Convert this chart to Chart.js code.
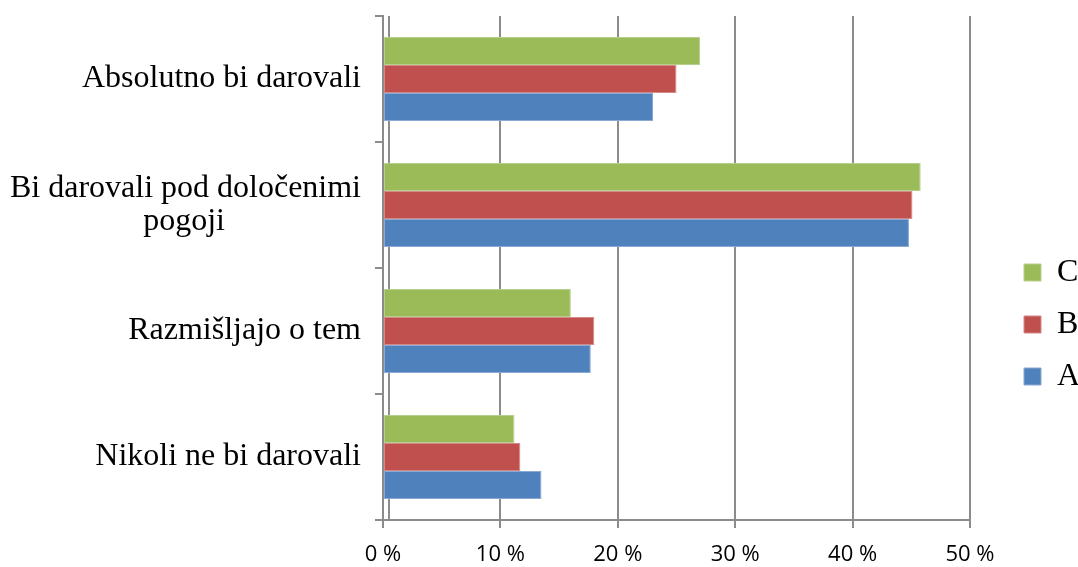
<!DOCTYPE html>
<html>
<head>
<meta charset="utf-8">
<script src="https://cdn.jsdelivr.net/npm/chart.js@4.4.1/dist/chart.umd.min.js"></script>
<style>
html,body{margin:0;padding:0;background:#fff;}
#wrap{width:1078px;height:567px;position:relative;}
</style>
</head>
<body>
<div id="wrap"><canvas id="c" width="1078" height="567"></canvas></div>
<script>
const NB = "\u00a0";
const categories = [
  "Absolutno bi darovali",
  ["Bi darovali pod določenimi", "pogoji" + NB.repeat(17)],
  "Razmišljajo o tem",
  "Nikoli ne bi darovali"
];
const seriesNames = ["C", "B", "A"];
const valuesC = [27.0, 45.8, 16.0, 11.2];
const valuesB = [25.0, 45.1, 18.0, 11.7];
const valuesA = [23.0, 44.8, 17.7, 13.5];
const xTicks = [0, 10, 20, 30, 40, 50];

const colors = ["#9BBB59", "#C0504D", "#4F81BD"];
const borders = ["#B7CF8C", "#D58A88", "#8AA9D3"];
const series = [valuesC, valuesB, valuesA];

const innerAxisLine = {
  id: 'innerAxisLine',
  beforeDatasetsDraw(chart) {
    const ctx = chart.ctx, a = chart.chartArea;
    ctx.save();
    ctx.strokeStyle = '#8c8c8c';
    ctx.lineWidth = 2;
    ctx.beginPath();
    ctx.moveTo(a.left + 6, a.top);
    ctx.lineTo(a.left + 6, a.bottom);
    ctx.stroke();
    ctx.restore();
  }
};

const shiftLegend = {
  id: 'shiftLegend',
  afterLayout(chart) {
    const lg = chart.legend;
    if (lg) { lg.left += 34; lg.right += 34; }
  }
};

new Chart(document.getElementById('c'), {
  type: 'bar',
  data: {
    labels: categories,
    datasets: seriesNames.map((n, i) => ({
      label: n,
      data: series[i],
      backgroundColor: colors[i],
      borderColor: borders[i],
      borderWidth: 1,
      borderSkipped: false,
      categoryPercentage: 0.667,
      barPercentage: 1.0
    }))
  },
  options: {
    indexAxis: 'y',
    responsive: false,
    animation: false,
    devicePixelRatio: 1,
    layout: { padding: { top: 16, right: 0, bottom: 0, left: 0 } },
    plugins: {
      tooltip: { enabled: false },
      legend: {
        position: 'right',
        title: { display: true, text: '', padding: { top: 0, bottom: 54 }, font: { size: 10 } },
        labels: {
          boxWidth: 17,
          boxHeight: 17,
          padding: 20,
          color: '#000',
          font: { family: '"Liberation Serif", "Times New Roman", serif', size: 32, lineHeight: 1.0 }
        }
      }
    },
    scales: {
      x: {
        min: 0,
        max: 50,
        afterBuildTicks(scale) { scale.ticks = xTicks.map(v => ({ value: v })); },
        afterFit(scale) { scale.height = 47; scale.paddingRight = 108; },
        grid: { color: '#8c8c8c', lineWidth: 2, tickLength: 8, drawTicks: true },
        border: { color: '#8c8c8c', width: 2 },
        ticks: {
          color: '#000',
          padding: 14,
          font: { family: '"Open Sans", "Liberation Sans", sans-serif', size: 22 },
          callback: v => v + ' %'
        }
      },
      y: {
        afterFit(scale) { scale.width = 383; scale.paddingTop = 0; scale.paddingBottom = 0; },
        grid: { drawOnChartArea: false, drawTicks: true, tickLength: 8, offset: true, color: '#8c8c8c', lineWidth: 2 },
        border: { color: '#8c8c8c', width: 2 },
        ticks: {
          color: '#000',
          padding: 14,
          font: { family: '"Liberation Serif", "Times New Roman", serif', size: 32, lineHeight: 1.05 }
        }
      }
    }
  },
  plugins: [innerAxisLine, shiftLegend]
});
</script>
</body>
</html>
